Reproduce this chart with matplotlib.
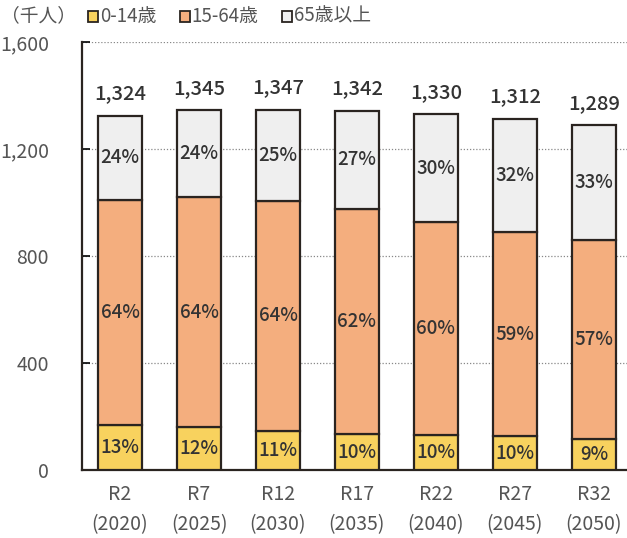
import numpy as np
import matplotlib
matplotlib.use("Agg")
from matplotlib import pyplot as plt
from matplotlib.patches import Rectangle

plt.rcParams['font.family'] = ['Noto Sans CJK JP', 'DejaVu Sans']

years = ['R2\n(2020)', 'R7\n(2025)', 'R12\n(2030)', 'R17\n(2035)', 'R22\n(2040)', 'R27\n(2045)', 'R32\n(2050)']
totals = [1324, 1345, 1347, 1342, 1330, 1312, 1289]
young = [170, 161, 148, 134, 133, 126, 116]
working = [839, 860, 858, 842, 794, 765, 744]
old = [t - y - w for t, y, w in zip(totals, young, working)]
young_pct = ['13%', '12%', '11%', '10%', '10%', '10%', '9%']
working_pct = ['64%', '64%', '64%', '62%', '60%', '59%', '57%']
old_pct = ['24%', '24%', '25%', '27%', '30%', '32%', '33%']

c_young = '#F8D25E'
c_work = '#F4AE7E'
c_old = '#EFEFEF'
edge = '#2a2420'
txt = '#333333'

fig = plt.figure(figsize=(6.27, 5.38), dpi=100)
ax = fig.add_axes([0.131, 0.126, 0.869, 0.796])

x = np.arange(len(years))
w = 0.56
ax.bar(x, young, w, color=c_young, edgecolor=edge, linewidth=1.6, zorder=3)
ax.bar(x, working, w, bottom=young, color=c_work, edgecolor=edge, linewidth=1.6, zorder=3)
ax.bar(x, old, w, bottom=np.array(young) + np.array(working), color=c_old, edgecolor=edge, linewidth=1.6, zorder=3)

for i in range(len(x)):
    ax.text(x[i], young[i] / 2, young_pct[i], ha='center', va='center', fontsize=13.5,
            fontweight='medium', color=txt, zorder=4)
    ax.text(x[i], young[i] + working[i] / 2, working_pct[i], ha='center', va='center', fontsize=13.5,
            fontweight='medium', color=txt, zorder=4)
    ax.text(x[i], young[i] + working[i] + old[i] / 2, old_pct[i], ha='center', va='center', fontsize=13.5,
            fontweight='medium', color=txt, zorder=4)
    ax.annotate(f'{totals[i]:,}', (x[i], totals[i]), xytext=(0, 9), textcoords='offset points',
                ha='center', va='bottom', fontsize=14.5, fontweight='medium', color=txt)

ax.set_ylim(0, 1600)
ax.set_xlim(-0.48, 6.42)
ax.set_yticks([0, 400, 800, 1200, 1600])
ax.set_yticklabels(['0', '400', '800', '1,200', '1,600'])
ax.set_xticks(x)
ax.set_xticklabels(years, linespacing=1.55)
ax.tick_params(axis='y', direction='in', length=6, width=1.2, labelsize=14, labelcolor='#555555', pad=24)
ax.tick_params(axis='x', length=0, labelsize=14, labelcolor='#555555', pad=10)
ax.yaxis.grid(True, linestyle=(0, (1, 1.5)), color='#888888', linewidth=0.9, zorder=0)
ax.spines['top'].set_visible(False)
ax.spines['right'].set_visible(False)
ax.spines['left'].set_linewidth(1.6)
ax.spines['bottom'].set_linewidth(1.6)
ax.spines['left'].set_color(edge)
ax.spines['bottom'].set_color(edge)

# unit and legend along the top
fig.text(0.002, 0.97, '（千人）', fontsize=13.5, color='#555555', va='center')
items = [(c_young, '0-14歳', 0.140), (c_work, '15-64歳', 0.287), (c_old, '65歳以上', 0.450)]
for col, lab, xp in items:
    fig.patches.append(Rectangle((xp, 0.96), 0.016, 0.019, transform=fig.transFigure,
                                 facecolor=col, edgecolor=edge, linewidth=1.3))
    fig.text(xp + 0.019, 0.97, lab, fontsize=13.5, color='#555555', va='center')

fig.savefig('out.png', dpi=100)
